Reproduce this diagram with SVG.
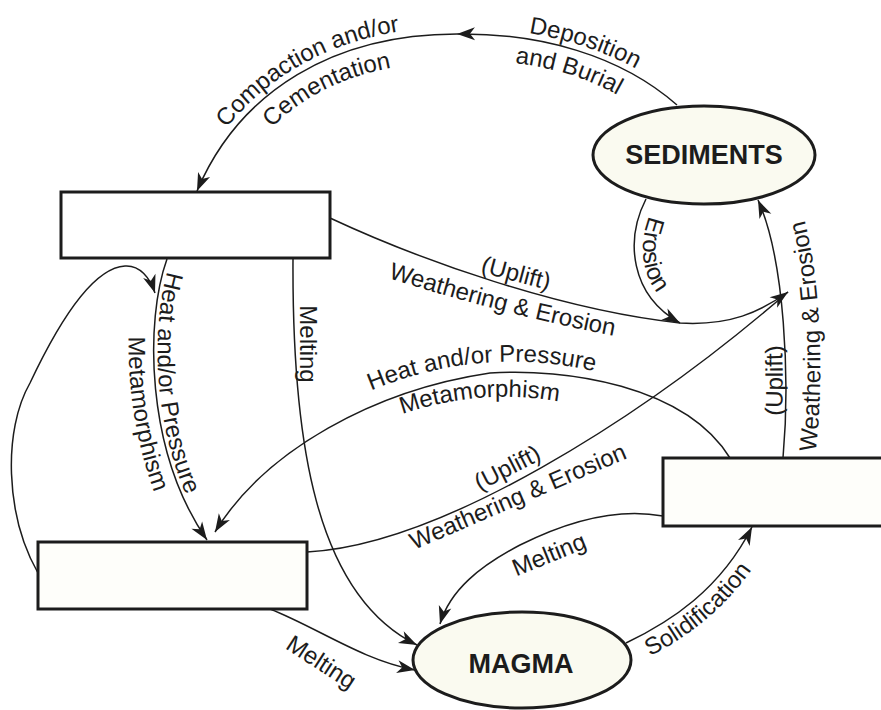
<svg xmlns="http://www.w3.org/2000/svg" width="881" height="710" viewBox="0 0 881 710">
<style>
.node{stroke:#1c1c1c;stroke-width:3;}
.rect{fill:#fefefa;}
.ell{fill:#fafaf0;}
.conn{fill:none;stroke:#1c1c1c;stroke-width:1.5;}
.lbl{font-family:"Liberation Sans",Arial,sans-serif;font-size:24px;fill:#1c1c1c;}
.big{font-family:"Liberation Sans",Arial,sans-serif;font-size:27px;font-weight:bold;fill:#1c1c1c;}
</style>
<defs>
<marker id="ah" viewBox="-19 -8 20 16" refX="0" refY="0" markerWidth="20" markerHeight="16" markerUnits="userSpaceOnUse" orient="auto">
<path d="M0,0 L-18,-6.5 L-13,0 L-18,6.5 Z" fill="#1c1c1c"/>
</marker>
<path id="pDep" d="M457,28 C540,27 622,49 681,100"/>
<path id="pBur" d="M457,60 C540,59 606,78 660,125"/>
<path id="pComp" d="M191,188 C236,84 334,27 457,27"/>
<path id="pCem" d="M223,203 C262,108 342,62 457,62"/>
<path id="pEro" d="M655,203 C634,244 638,290 684,315"/>
<path id="pWE1" d="M382,276 Q500,314 620,337"/>
<path id="pHP1" d="M171,260 C149,321 149,449 210,538"/>
<path id="pMeta1" d="M142,250 C119,315 121,455 185,555"/>
<path id="pHP2" d="M368,392 Q480,344 598,372"/>
<path id="pMeta2" d="M400,415 Q480,387 561,402"/>
<path id="pUp3" d="M778,458 C788,380 783,262 753,203"/>
<path id="pWE3" d="M815,458 C825,380 822,260 796,194"/>
<path id="pSol" d="M636,663 C684,641 734,607 772,537"/>
</defs>
<rect width="881" height="710" fill="#ffffff"/>

<g id="connectors">
<path class="conn" d="M677,105 C620,55 540,33 457,34" marker-end="url(#ah)"/>
<path class="conn" d="M457,34 C335,34 240,90 197,191" marker-end="url(#ah)"/>
<path class="conn" d="M646,199 C625,240 630,295 680,323" marker-end="url(#ah)"/>
<path class="conn" d="M330,218 C420,260 560,310 680,323 C730,326 760,312 788,292" marker-end="url(#ah)"/>
<path class="conn" d="M307,552 C440,545 640,420 788,292"/>
<path class="conn" d="M783,458 C790,380 785,260 758,200" marker-end="url(#ah)"/>
<path class="conn" d="M730,458 C685,385 565,368 490,373 C375,390 265,450 215,532" marker-end="url(#ah)"/>
<path class="conn" d="M167,259 C145,320 145,450 207,540" marker-end="url(#ah)"/>
<path class="conn" d="M38,573 C5,515 3,430 30,383 C55,330 90,268 125,266 C140,265 150,278 155,293" marker-end="url(#ah)"/>
<path class="conn" d="M293,259 C292,440 315,595 417,645" marker-end="url(#ah)"/>
<path class="conn" d="M270,609 C318,628 362,660 415,670" marker-end="url(#ah)"/>
<path class="conn" d="M663,516 C620,508 570,520 520,545 C480,566 450,590 440,624" marker-end="url(#ah)"/>
<path class="conn" d="M626,643 C670,622 720,590 752,527" marker-end="url(#ah)"/>
</g>

<g id="node-sediments">
<ellipse class="node ell" cx="704" cy="155" rx="111" ry="49"/>
<text class="big" x="704" y="164" text-anchor="middle">SEDIMENTS</text>
</g>
<g id="node-magma">
<ellipse class="node ell" cx="522" cy="660" rx="109" ry="48"/>
<text class="big" x="521" y="673" text-anchor="middle">MAGMA</text>
</g>
<g id="node-top-left">
<rect class="node" x="61" y="192" width="269" height="66" fill="#ffffff"/>
</g>
<g id="node-bottom-left">
<rect class="node rect" x="38" y="542" width="269" height="67"/>
</g>
<g id="node-right">
<rect class="node rect" x="663" y="458" width="224" height="68"/>
</g>

<g id="labels" class="lbl">
<text class="lbl"><textPath href="#pDep" startOffset="72">Deposition</textPath></text>
<text class="lbl"><textPath href="#pBur" startOffset="58">and Burial</textPath></text>
<text class="lbl"><textPath href="#pComp" startOffset="70">Compaction and/or</textPath></text>
<text class="lbl"><textPath href="#pCem" startOffset="90">Cementation</textPath></text>
<text class="lbl"><textPath href="#pEro" startOffset="42%" text-anchor="middle">Erosion</textPath></text>
<text class="lbl" transform="translate(514,281) rotate(15)" text-anchor="middle">(Uplift)</text>
<text class="lbl"><textPath href="#pWE1" startOffset="50%" text-anchor="middle">Weathering &amp; Erosion</textPath></text>
<text class="lbl"><textPath href="#pHP1" startOffset="12">Heat and/or Pressure</textPath></text>
<text class="lbl"><textPath href="#pMeta1" startOffset="88">Metamorphism</textPath></text>
<text class="lbl" transform="translate(300,344) rotate(90)" text-anchor="middle">Melting</text>
<text class="lbl"><textPath href="#pHP2" startOffset="50%" text-anchor="middle">Heat and/or Pressure</textPath></text>
<text class="lbl"><textPath href="#pMeta2" startOffset="50%" text-anchor="middle">Metamorphism</textPath></text>
<text class="lbl" transform="translate(511,475) rotate(-27)" text-anchor="middle">(Uplift)</text>
<text class="lbl" transform="translate(521,504) rotate(-23.3)" text-anchor="middle">Weathering &amp; Erosion</text>
<text class="lbl"><textPath href="#pUp3" startOffset="30%" text-anchor="middle">(Uplift)</textPath></text>
<text class="lbl"><textPath href="#pWE3" startOffset="46%" text-anchor="middle">Weathering &amp; Erosion</textPath></text>
<text class="lbl"><textPath href="#pSol" startOffset="44%" text-anchor="middle">Solidification</textPath></text>
<text class="lbl" transform="translate(552,562) rotate(-22)" text-anchor="middle">Melting</text>
<text class="lbl" transform="translate(317,669) rotate(33)" text-anchor="middle">Melting</text>
</g>
</svg>
